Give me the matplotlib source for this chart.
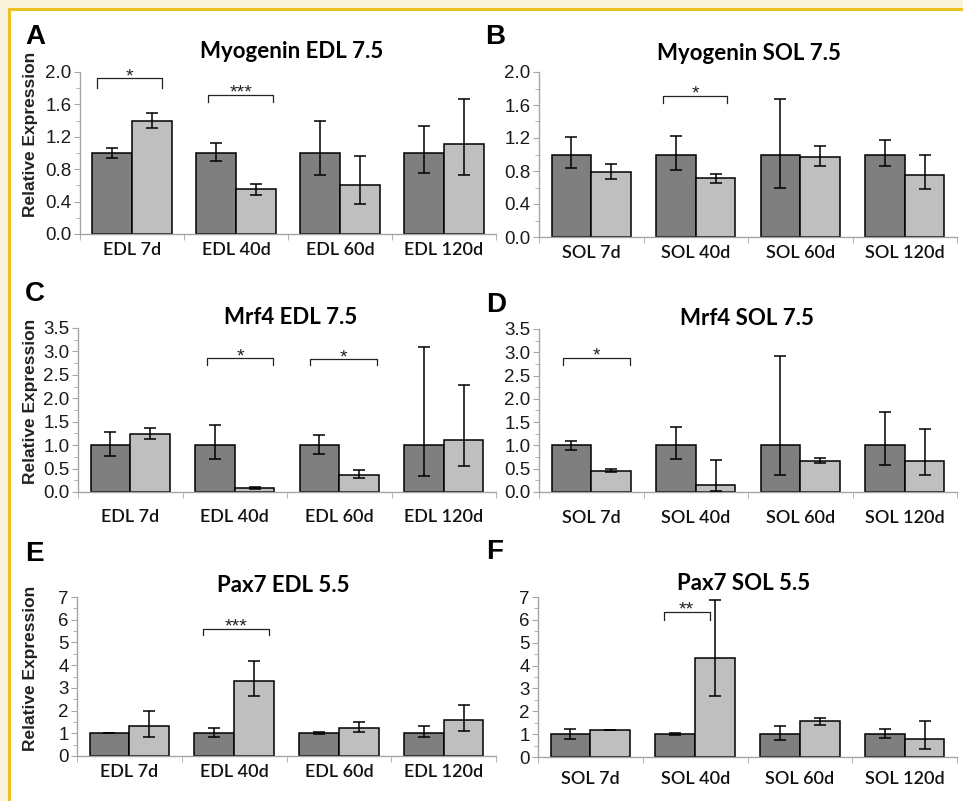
import numpy as np
import matplotlib
matplotlib.use("Agg")
import matplotlib.pyplot as plt
from matplotlib.patches import Rectangle
from matplotlib.ticker import MultipleLocator, FormatStrFormatter

W, H = 963, 801

cats_edl = ["EDL 7d", "EDL 40d", "EDL 60d", "EDL 120d"]
cats_sol = ["SOL 7d", "SOL 40d", "SOL 60d", "SOL 120d"]

# Myogenin EDL 7.5 (A): bar height, error bar top, error bar bottom
myog_edl_ctrl = [1.0, 1.0, 1.0, 1.0]
myog_edl_ctrl_top = [1.056, 1.126, 1.394, 1.336]
myog_edl_ctrl_bot = [0.94, 0.903, 0.734, 0.75]
myog_edl_trt = [1.40, 0.55, 0.60, 1.11]
myog_edl_trt_top = [1.497, 0.623, 0.965, 1.666]
myog_edl_trt_bot = [1.303, 0.478, 0.375, 0.734]

# Myogenin SOL 7.5 (B)
myog_sol_ctrl = [1.0, 1.0, 1.0, 1.0]
myog_sol_ctrl_top = [1.215, 1.23, 1.668, 1.174]
myog_sol_ctrl_bot = [0.838, 0.818, 0.599, 0.858]
myog_sol_trt = [0.785, 0.713, 0.97, 0.749]
myog_sol_trt_top = [0.879, 0.769, 1.10, 0.992]
myog_sol_trt_bot = [0.709, 0.652, 0.858, 0.579]

# Mrf4 EDL 7.5 (C)
mrf4_edl_ctrl = [1.0, 1.0, 1.0, 1.0]
mrf4_edl_ctrl_top = [1.285, 1.42, 1.221, 3.10]
mrf4_edl_ctrl_bot = [0.767, 0.703, 0.809, 0.333]
mrf4_edl_trt = [1.23, 0.08, 0.37, 1.10]
mrf4_edl_trt_top = [1.356, 0.10, 0.461, 2.29]
mrf4_edl_trt_bot = [1.121, 0.06, 0.298, 0.56]

# Mrf4 SOL 7.5 (D)
mrf4_sol_ctrl = [1.0, 1.0, 1.0, 1.0]
mrf4_sol_ctrl_top = [1.088, 1.389, 2.93, 1.718]
mrf4_sol_ctrl_bot = [0.90, 0.70, 0.358, 0.587]
mrf4_sol_trt = [0.46, 0.16, 0.666, 0.666]
mrf4_sol_trt_top = [0.495, 0.694, 0.73, 1.353]
mrf4_sol_trt_bot = [0.425, 0.03, 0.616, 0.358]

# Pax7 EDL 5.5 (E)
pax7_edl_ctrl = [1.0, 1.0, 1.0, 1.0]
pax7_edl_ctrl_top = [1.0, 1.24, 1.04, 1.30]
pax7_edl_ctrl_bot = [1.0, 0.83, 0.96, 0.83]
pax7_edl_trt = [1.30, 3.32, 1.22, 1.58]
pax7_edl_trt_top = [1.98, 4.19, 1.51, 2.24]
pax7_edl_trt_bot = [0.83, 2.65, 1.04, 1.10]

# Pax7 SOL 5.5 (F)
pax7_sol_ctrl = [1.0, 1.0, 1.0, 1.0]
pax7_sol_ctrl_top = [1.22, 1.03, 1.37, 1.22]
pax7_sol_ctrl_bot = [0.80, 0.97, 0.73, 0.83]
pax7_sol_trt = [1.16, 4.31, 1.56, 0.77]
pax7_sol_trt_top = [1.16, 6.89, 1.71, 1.56]
pax7_sol_trt_bot = [1.16, 2.68, 1.41, 0.35]

# significance brackets: (category, left offset, right offset, line y, end y, label)
sig_myog_edl = [(0, -0.34, 0.29, 1.92, 1.80, "*"), (1, -0.27, 0.36, 1.72, 1.63, "***")]
sig_myog_sol = [(1, -0.31, 0.30, 1.71, 1.63, "*")]
sig_mrf4_edl = [(1, -0.27, 0.37, 2.85, 2.72, "*"), (2, -0.28, 0.36, 2.83, 2.70, "*")]
sig_mrf4_sol = [(0, -0.27, 0.37, 2.88, 2.73, "*")]
sig_pax7_edl = [(1, -0.30, 0.33, 5.61, 5.31, "***")]
sig_pax7_sol = [(1, -0.30, 0.14, 6.34, 6.00, "**")]

DARK = "#7f7f7f"
LIGHT = "#bfbfbf"
AXIS_GRAY = "#a6a6a6"
CAL = ["Lato", "DejaVu Sans"]
ARIAL = ["Liberation Sans", "DejaVu Sans"]


def px_box(left, right, top, bottom):
    return [left / W, 1 - bottom / H, (right - left) / W, (bottom - top) / H]


def draw_panel(ax, cats, ctrl, ctrl_top, ctrl_bot, trt, trt_top, trt_bot,
               ymax, ystep, yfmt, sig, xpad):
    x = np.arange(len(cats))
    for off, vals, top, bot, col in [(-0.19, ctrl, ctrl_top, ctrl_bot, DARK),
                                     (0.19, trt, trt_top, trt_bot, LIGHT)]:
        vals = np.array(vals)
        err = [vals - np.array(bot), np.array(top) - vals]
        ax.bar(x + off, vals, width=0.38, color=col, edgecolor="black",
               linewidth=1.1, zorder=2)
        ax.errorbar(x + off, vals, yerr=err, fmt="none", ecolor="black",
                    elinewidth=1.1, capsize=4, capthick=1.1, zorder=3)

    for cat, x0, x1, yl, ye, lab in sig:
        ax.plot([cat + x0, cat + x0, cat + x1, cat + x1], [ye, yl, yl, ye],
                color="#222222", lw=0.9, zorder=3)
        ax.annotate(lab, xy=(cat + (x0 + x1) / 2, yl), xytext=(0, -2),
                    textcoords="offset points", ha="center", va="baseline",
                    fontsize=14, color="#222222", family=ARIAL)

    ax.set_xlim(-0.5, len(cats) - 0.5)
    ax.set_ylim(0, ymax)
    ax.set_xticks(x)
    ax.set_xticklabels(cats, family=CAL, fontsize=13, fontweight="semibold",
                       color="#111111")
    ax.set_xticks(np.arange(-0.5, len(cats), 1), minor=True)
    ax.tick_params(axis="x", which="major", length=0, pad=xpad)
    ax.tick_params(axis="x", which="minor", length=4, color=AXIS_GRAY,
                   direction="out")
    ax.yaxis.set_major_locator(MultipleLocator(ystep))
    ax.yaxis.set_minor_locator(MultipleLocator(ystep / 2))
    ax.yaxis.set_major_formatter(FormatStrFormatter(yfmt))
    ax.tick_params(axis="y", which="major", length=4, color=AXIS_GRAY,
                   labelsize=13.5, labelcolor="#1a1a1a", pad=2)
    ax.tick_params(axis="y", which="minor", length=3, color=AXIS_GRAY)
    for lab in ax.get_yticklabels():
        lab.set_family(ARIAL)
    for s in ["top", "right"]:
        ax.spines[s].set_visible(False)
    for s in ["left", "bottom"]:
        ax.spines[s].set_color(AXIS_GRAY)
        ax.spines[s].set_linewidth(1.0)
    ax.set_facecolor("none")


fig = plt.figure(figsize=(W / 100, H / 100), dpi=100, facecolor="#fbf4dc")
fig.patches.append(Rectangle((9 / W, -0.05), 1.1, 1 - 9 / H + 0.05,
                             transform=fig.transFigure, facecolor="white",
                             edgecolor="#ebc21f", linewidth=2.2, zorder=-10))

panels = [
    ("A", "Myogenin EDL 7.5", px_box(80, 496, 72, 234), cats_edl,
     myog_edl_ctrl, myog_edl_ctrl_top, myog_edl_ctrl_bot,
     myog_edl_trt, myog_edl_trt_top, myog_edl_trt_bot,
     2.0, 0.4, "%.1f", sig_myog_edl, 6, (35, 37), (292, 52), 134),
    ("B", "Myogenin SOL 7.5", px_box(539, 957, 72, 237), cats_sol,
     myog_sol_ctrl, myog_sol_ctrl_top, myog_sol_ctrl_bot,
     myog_sol_trt, myog_sol_trt_top, myog_sol_trt_bot,
     2.0, 0.4, "%.1f", sig_myog_sol, 6, (495, 37), (749, 53), None),
    ("C", "Mrf4 EDL 7.5", px_box(78, 496, 328, 492), cats_edl,
     mrf4_edl_ctrl, mrf4_edl_ctrl_top, mrf4_edl_ctrl_bot,
     mrf4_edl_trt, mrf4_edl_trt_top, mrf4_edl_trt_bot,
     3.5, 0.5, "%.1f", sig_mrf4_edl, 12, (35, 294), (291, 317), 401),
    ("D", "Mrf4 SOL 7.5", px_box(539, 957, 329, 492), cats_sol,
     mrf4_sol_ctrl, mrf4_sol_ctrl_top, mrf4_sol_ctrl_bot,
     mrf4_sol_trt, mrf4_sol_trt_top, mrf4_sol_trt_bot,
     3.5, 0.5, "%.1f", sig_mrf4_sol, 13, (496, 305), (747, 318), None),
    ("E", "Pax7 EDL 5.5", px_box(77, 496, 597, 756), cats_edl,
     pax7_edl_ctrl, pax7_edl_ctrl_top, pax7_edl_ctrl_bot,
     pax7_edl_trt, pax7_edl_trt_top, pax7_edl_trt_bot,
     7, 1, "%d", sig_pax7_edl, 5.5, (34, 554), (283, 585), 668),
    ("F", "Pax7 SOL 5.5", px_box(538, 957, 597, 757), cats_sol,
     pax7_sol_ctrl, pax7_sol_ctrl_top, pax7_sol_ctrl_bot,
     pax7_sol_trt, pax7_sol_trt_top, pax7_sol_trt_bot,
     7, 1, "%d", sig_pax7_sol, 10, (495, 552), (744, 583), None),
]

for (letter, title, box, cats, c, ct, cb, t, tt, tb, ymax, ystep, yfmt,
     sig, xpad, lpos, tpos, ylab_y) in panels:
    ax = fig.add_axes(box)
    draw_panel(ax, cats, c, ct, cb, t, tt, tb, ymax, ystep, yfmt, sig, xpad)
    fig.text(lpos[0] / W, 1 - lpos[1] / H, letter, ha="center", va="center",
             fontsize=20, fontweight="bold", family=ARIAL)
    fig.text(tpos[0] / W, 1 - tpos[1] / H, title, ha="center", va="center",
             fontsize=16, fontweight="bold", family=CAL)
    if ylab_y is not None:
        fig.text(31 / W, 1 - ylab_y / H, "Relative Expression", rotation=90,
                 ha="center", va="center", fontsize=12.5, fontweight="bold",
                 family=ARIAL, color="#222222")

fig.savefig("out.png", dpi=100, facecolor=fig.get_facecolor())
